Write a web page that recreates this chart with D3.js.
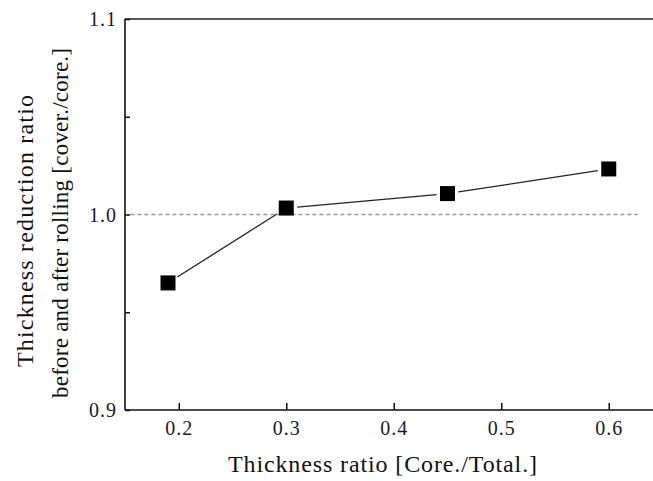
<!DOCTYPE html>
<html><head><meta charset="utf-8">
<script src="https://cdn.jsdelivr.net/npm/d3@7/dist/d3.min.js"></script>
<style>body{margin:0;background:#fff;} svg{display:block;}</style>
</head><body>
<svg id="c" width="653" height="481"></svg>
<script>
const thicknessRatio = [0.19, 0.30, 0.45, 0.60];
const reductionRatio = [0.965, 1.0033, 1.0107, 1.0233];
const xTicks = [0.2, 0.3, 0.4, 0.5, 0.6];
const yTicks = [0.9, 1.0, 1.1];
const yMinorTicks = [0.95, 1.05];
const referenceValue = 1.0;

(function () {
const svg = d3.select("#c");
const W = 653;
const mLeft = 125, mTop = 19, mBottom = 410;
const x = d3.scaleLinear().domain([0.15, 0.6]).range([mLeft, 125 + 0.45 * 1075]);
const y = d3.scaleLinear().domain([0.9, 1.1]).range([mBottom, mTop]);
const font = "'Liberation Serif','Times New Roman',serif";

svg.append("line")
  .attr("x1", x(0.155)).attr("x2", x(0.627))
  .attr("y1", y(referenceValue)).attr("y2", y(referenceValue))
  .attr("stroke", "#999").attr("stroke-width", 1.3).attr("stroke-dasharray", "4,3");

svg.append("line").attr("x1", mLeft).attr("x2", W).attr("y1", mTop).attr("y2", mTop)
  .attr("stroke", "#222").attr("stroke-width", 1.6);
svg.append("line").attr("x1", mLeft).attr("x2", W).attr("y1", mBottom).attr("y2", mBottom)
  .attr("stroke", "#111").attr("stroke-width", 1.6);
svg.append("line").attr("x1", mLeft).attr("x2", mLeft).attr("y1", mTop).attr("y2", mBottom)
  .attr("stroke", "#111").attr("stroke-width", 1.6);

const xAxis = d3.axisTop(x).tickValues(xTicks).tickSize(7).tickFormat("");
const gx = svg.append("g").attr("transform", `translate(0,${mBottom})`).call(xAxis);
gx.select(".domain").remove();
gx.selectAll("line").attr("stroke", "#111").attr("stroke-width", 1.5);
svg.selectAll(".xl").data(xTicks).enter().append("text")
  .attr("x", d => x(d)).attr("y", 435).attr("text-anchor", "middle")
  .attr("font-family", font).attr("font-size", 20).attr("fill", "#1a1a2a")
  .attr("textLength", 27).attr("lengthAdjust", "spacing")
  .text(d => d.toFixed(1));

const yAxis = d3.axisRight(y).tickValues(yTicks.concat(yMinorTicks)).tickSize(5).tickFormat("");
const gy = svg.append("g").attr("transform", `translate(${mLeft},0)`).call(yAxis);
gy.select(".domain").remove();
gy.selectAll("line").attr("stroke", "#111").attr("stroke-width", 1.5);
svg.selectAll(".yl").data(yTicks).enter().append("text")
  .attr("x", 116).attr("y", d => y(d) + 7).attr("text-anchor", "end")
  .attr("font-family", font).attr("font-size", 20).attr("fill", "#1a1a2a")
  .attr("textLength", 27).attr("lengthAdjust", "spacing")
  .text(d => d.toFixed(1));

const pts = thicknessRatio.map((t, i) => [x(t), y(reductionRatio[i])]);
const gap = 11;
for (let i = 0; i < pts.length - 1; i++) {
  const [x1, y1] = pts[i], [x2, y2] = pts[i + 1];
  const L = Math.hypot(x2 - x1, y2 - y1);
  const ux = (x2 - x1) / L, uy = (y2 - y1) / L;
  svg.append("line")
    .attr("x1", x1 + ux * gap).attr("y1", y1 + uy * gap)
    .attr("x2", x2 - ux * gap).attr("y2", y2 - uy * gap)
    .attr("stroke", "#222").attr("stroke-width", 1.3);
}

const s = 15;
svg.selectAll(".m").data(pts).enter().append("rect")
  .attr("x", d => d[0] - s / 2).attr("y", d => d[1] - s / 2)
  .attr("width", s).attr("height", s).attr("fill", "#000");

svg.append("text").attr("x", 382.5).attr("y", 472).attr("text-anchor", "middle")
  .attr("font-family", font).attr("font-size", 24).attr("fill", "#111")
  .attr("textLength", 309).attr("lengthAdjust", "spacing")
  .text("Thickness ratio [Core./Total.]");
svg.append("text").attr("transform", "translate(33,231) rotate(-90)").attr("text-anchor", "middle")
  .attr("font-family", font).attr("font-size", 24).attr("fill", "#111")
  .attr("textLength", 272).attr("lengthAdjust", "spacing")
  .text("Thickness reduction ratio");
svg.append("text").attr("transform", "translate(68,223) rotate(-90)").attr("text-anchor", "middle")
  .attr("font-family", font).attr("font-size", 23).attr("fill", "#111")
  .attr("textLength", 350).attr("lengthAdjust", "spacing")
  .text("before and after rolling [cover./core.]");
})();
</script>
</body></html>
